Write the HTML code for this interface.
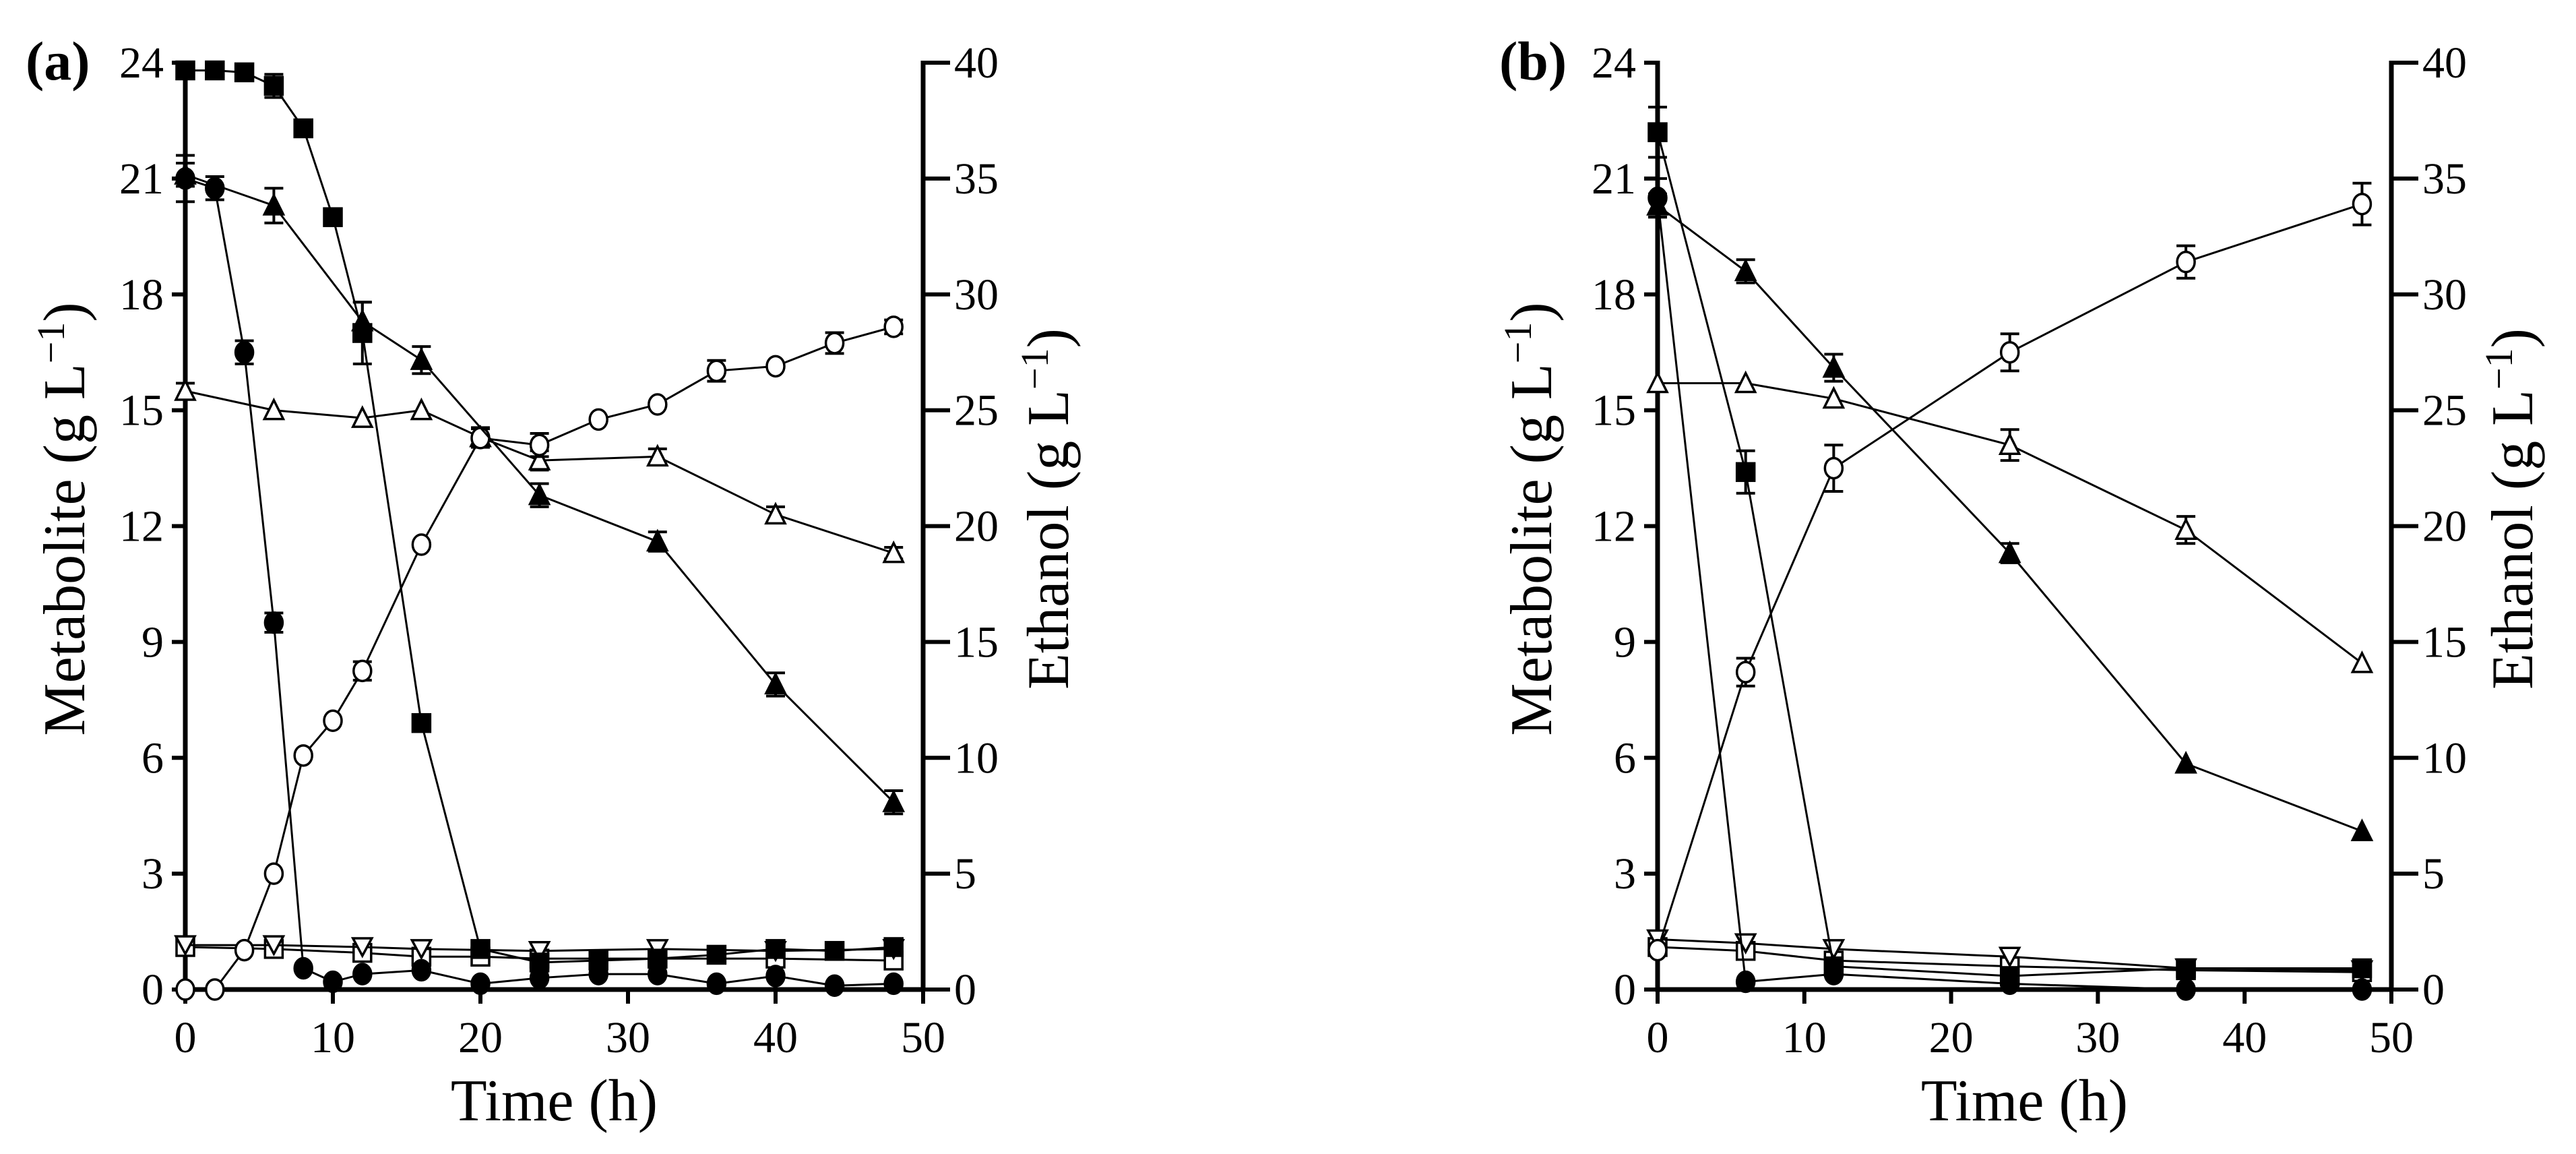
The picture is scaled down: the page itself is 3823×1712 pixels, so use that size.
<!DOCTYPE html>
<html><head><meta charset="utf-8"><style>
html,body{margin:0;padding:0;background:#fff;}
svg{display:block;font-family:"Liberation Serif",serif;}
</style></head><body>
<svg id="fig" width="3823" height="1712" viewBox="0 0 3823 1712" xmlns="http://www.w3.org/2000/svg"></svg>
<script>
// ---- Panel A data ----
const timesA = [0,2,4,6,8,10,12,16,20,24,28,32,36,40,44,48];
const glucoseA = [23.8,23.8,23.75,23.4,22.3,20.0,17.0,6.9,1.05,0.7,0.75,0.8,0.9,1.05,1.0,1.1];
const glucoseErrA = [0.1,0.15,0.2,0.3,0.2,0.1,0.8,0,0,0,0,0,0,0,0,0];
const circleA = [21.0,20.75,16.5,9.5,0.55,0.2,0.4,0.5,0.15,0.3,0.4,0.4,0.15,0.35,0.1,0.15];
const circleErrA = [0.6,0.3,0.3,0.25,0,0,0,0,0,0,0,0,0,0,0,0];
const timesTriA = [0,6,12,16,24,32,40,48];
const triA = [21.1,20.3,17.3,16.3,12.8,11.6,7.9,4.85];
const triErrA = [0.3,0.45,0.5,0.35,0.3,0.25,0.3,0.3];
const timesOTriA = [0,6,12,16,20,24,32,40,48];
const oTriA = [15.5,15.0,14.8,15.0,14.3,13.7,13.8,12.3,11.3];
const oTriErrA = [0.2,0,0,0,0.25,0.25,0.2,0.2,0.15];
const ethanolA = [0,0,1.7,5.0,10.1,11.6,13.75,19.2,23.8,23.5,24.6,25.25,26.7,26.9,27.9,28.6];
const ethanolErrA = [0,0,0,0,0,0,0.4,0,0.4,0.5,0,0,0.45,0,0.45,0.3];
const timesOSqA = [0,6,12,16,20,24,32,40,48];
const oSqA = [1.1,1.05,0.95,0.85,0.85,0.8,0.8,0.8,0.75];
const timesInvA = [0,6,12,16,24,32,40,48];
const invA = [1.15,1.15,1.1,1.05,1.0,1.05,1.0,1.05];
// ---- Panel B data ----
const timesB = [0,6,12,24,36,48];
const glucoseB = [22.2,13.4,0.6,0.35,0.55,0.55];
const glucoseErrB = [0.65,0.55,0,0,0,0];
const circleB = [20.5,0.2,0.4,0.15,0.0,0.0];
const circleErrB = [0.5,0,0,0,0,0];
const triB = [20.3,18.6,16.1,11.3,5.85,4.1];
const triErrB = [0.3,0.3,0.35,0.25,0,0];
const oTriB = [15.7,15.7,15.3,14.1,11.9,8.45];
const oTriErrB = [0,0,0,0.4,0.35,0];
const ethanolB = [1.7,13.7,22.5,27.5,31.4,33.9];
const ethanolErrB = [0,0.6,1.0,0.8,0.7,0.9];
const oSqB = [1.1,1.0,0.75,0.6,0.5,0.45];
const invB = [1.3,1.2,1.05,0.85,0.55,0.5];
// ---- Axes ticks ----
const xTicks = [0,10,20,30,40,50];
const yTicks = [0,3,6,9,12,15,18,21,24];
const y2Ticks = [0,5,10,15,20,25,30,35,40];

const NS="http://www.w3.org/2000/svg";
const svg=document.getElementById('fig');
function mk(tag,attrs,parent){const e=document.createElementNS(NS,tag);for(const k in attrs)e.setAttribute(k,attrs[k]);(parent||svg).appendChild(e);return e;}

const Y0=1468, Y24=93;
function panel(x0,x50,label,labelX,metX,ethX,series,name){
  const g=mk('g',{});
  
  
  const xs=t=>x0+(x50-x0)*t/50;
  const ys=v=>Y0-(Y0-Y24)*v/24;
  const ys2=v=>Y0-(Y0-Y24)*v/40;
  const ax=mk('path',{d:`M${x0},${Y24-3} V${Y0} H${x50} M${x50},${Y0} V${Y24-3}`,stroke:'#000','stroke-width':7,fill:'none'},g);
  
  
  xTicks.forEach(t=>{
    mk('line',{x1:xs(t),x2:xs(t),y1:Y0,y2:Y0+21,stroke:'#000','stroke-width':6},g);
    const tx=mk('text',{x:xs(t),y:1561,'font-size':66,'text-anchor':'middle'},g);
    tx.textContent=t;
    
    
  });
  yTicks.forEach(v=>{
    mk('line',{x1:x0-20,x2:x0,y1:ys(v),y2:ys(v),stroke:'#000','stroke-width':6},g);
    const tx=mk('text',{x:x0-32,y:ys(v)+22,'font-size':66,'text-anchor':'end'},g);
    tx.textContent=v;
    
    
  });
  y2Ticks.forEach(v=>{
    mk('line',{x1:x50,x2:x50+40,y1:ys2(v),y2:ys2(v),stroke:'#000','stroke-width':6},g);
    const tx=mk('text',{x:x50+46,y:ys2(v)+22,'font-size':66,'text-anchor':'start'},g);
    tx.textContent=v;
    
    
  });
  const xt=mk('text',{x:(x0+x50)/2,y:1662,'font-size':88,'text-anchor':'middle'},g);
  xt.textContent='Time (h)';
  
  
  const mt=mk('text',{x:0,y:0,'font-size':88,'text-anchor':'middle',transform:`translate(${metX},770) rotate(-90)`},g);
  mt.innerHTML='Metabolite (g L<tspan dy="-30" font-size="58">−1</tspan><tspan dy="30">)</tspan>';
  
  
  const et=mk('text',{x:0,y:0,'font-size':88,'text-anchor':'middle',transform:`translate(${ethX},755) rotate(-90)`},g);
  et.innerHTML='Ethanol (g L<tspan dy="-30" font-size="58">−1</tspan><tspan dy="30">)</tspan>';
  
  
  const pl=mk('text',{x:labelX,y:118,'font-size':82,'font-weight':'bold'},g);
  pl.textContent=label;
  
  

  series.forEach(s=>{
    const sc=s.right?ys2:ys;
    const sg=mk('g',{},g);
    
    
    const pts=s.t.map((t,i)=>[xs(t),sc(s.v[i])]);
    mk('polyline',{points:pts.map(p=>p.join(',')).join(' '),fill:'none',stroke:'#000','stroke-width':3},sg);
    if(s.err){s.t.forEach((t,i)=>{const e=s.err[i];if(!e)return;const x=xs(t),a=sc(s.v[i]+e),b=sc(s.v[i]-e);
      mk('path',{d:`M${x},${a}V${b}M${x-14},${a}H${x+14}M${x-14},${b}H${x+14}`,stroke:'#000','stroke-width':4,fill:'none'},sg);});}
    pts.forEach(([x,y])=>{
      const f=s.fill?'#000':'#fff';const r=13;let m;
      if(s.m==='sq')m=mk('rect',{x:x-r,y:y-r,width:2*r,height:2*r,fill:f,stroke:'#000','stroke-width':3.5},sg);
      else if(s.m==='ci')m=mk('ellipse',{cx:x,cy:y,rx:r,ry:r+2,fill:f,stroke:'#000','stroke-width':3.5},sg);
      else if(s.m==='tr')m=mk('path',{d:`M${x},${y-r-2}L${x+r+1},${y+r}L${x-r-1},${y+r}Z`,fill:f,stroke:'#000','stroke-width':3.5},sg);
      else m=mk('path',{d:`M${x},${y+r}L${x+r+1},${y-r}L${x-r-1},${y-r}Z`,fill:f,stroke:'#000','stroke-width':3.5},sg);
      
      
    });
  });
}
panel(275,1370,'(a)',38,125,1585,[
 {name:'open-square-series',t:timesOSqA,v:oSqA,m:'sq',fill:false},
 {name:'inverted-triangle-series',t:timesInvA,v:invA,m:'iv',fill:false},
 {name:'open-triangle-series',t:timesOTriA,v:oTriA,err:oTriErrA,m:'tr',fill:false},
 {name:'ethanol-series',t:timesA,v:ethanolA,err:ethanolErrA,m:'ci',fill:false,right:true},
 {name:'filled-triangle-series',t:timesTriA,v:triA,err:triErrA,m:'tr',fill:true},
 {name:'filled-circle-series',t:timesA,v:circleA,err:circleErrA,m:'ci',fill:true},
 {name:'filled-square-series',t:timesA,v:glucoseA,err:glucoseErrA,m:'sq',fill:true}
],'panel-a');
panel(2460,3549,'(b)',2225,2302,3758,[
 {name:'open-square-series',t:timesB,v:oSqB,m:'sq',fill:false},
 {name:'inverted-triangle-series',t:timesB,v:invB,m:'iv',fill:false},
 {name:'open-triangle-series',t:timesB,v:oTriB,err:oTriErrB,m:'tr',fill:false},
 {name:'ethanol-series',t:timesB,v:ethanolB,err:ethanolErrB,m:'ci',fill:false,right:true},
 {name:'filled-triangle-series',t:timesB,v:triB,err:triErrB,m:'tr',fill:true},
 {name:'filled-circle-series',t:timesB,v:circleB,err:circleErrB,m:'ci',fill:true},
 {name:'filled-square-series',t:timesB,v:glucoseB,err:glucoseErrB,m:'sq',fill:true}
],'panel-b');
</script>
</body></html>
